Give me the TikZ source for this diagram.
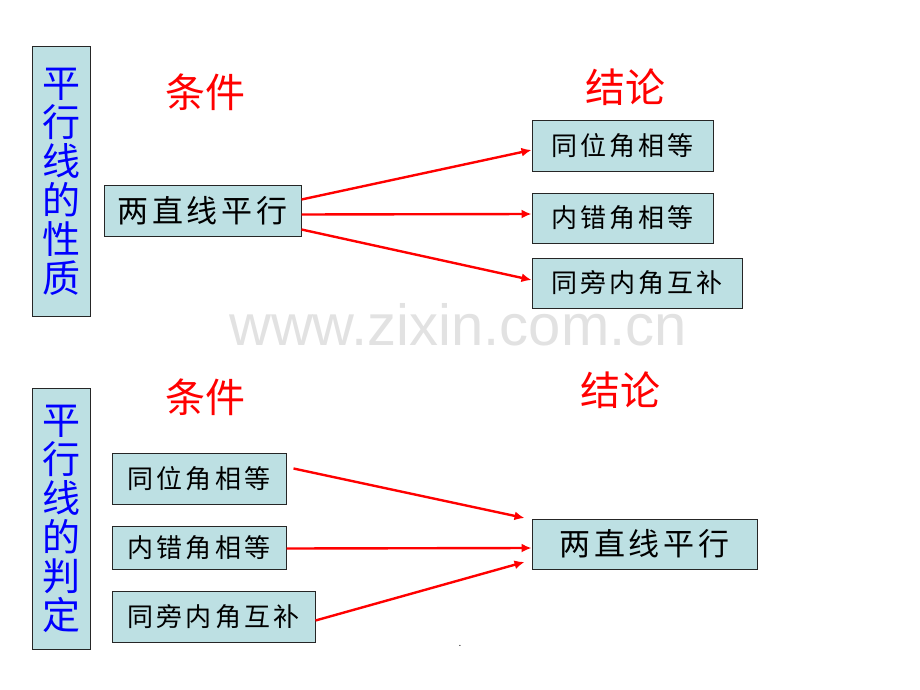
\documentclass[tikz,border=0pt]{standalone}
\usepackage{fontspec}
\setmainfont{Liberation Sans}
\newfontfamily\cjk{Noto Sans CJK SC}
\newfontfamily\cjkbox[LetterSpace=12]{Noto Sans CJK SC}
\usetikzlibrary{arrows.meta}
\definecolor{boxfill}{RGB}{189,224,227}
\definecolor{mark}{RGB}{226,226,226}
\begin{document}
\begin{tikzpicture}[x=1pt, y=-1pt,
	every node/.style = {inner sep=0pt},
	box/.style = {draw=black!85, line width=1pt, fill=boxfill, text=black},
	big/.style = {box, font=\cjkbox\fontsize{31}{31}\selectfont},
	small/.style = {box, font=\cjkbox\fontsize{26}{26}\selectfont},
	side/.style = {box, minimum width=58pt, text=blue, align=center,
		font=\cjk\fontsize{38}{39}\selectfont},
	head/.style = {text=red, font=\cjk\fontsize{40}{40}\selectfont},
	arr/.style = {red, line width=2.4pt, -{Latex[length=10pt,width=9pt]}}]
	
	\useasboundingbox (0,0) rectangle (920,690);
	
	% watermark
	\node[text=mark, font=\fontsize{58}{58}\selectfont, anchor=base] (wm) at (458,345) {www.zixin.com.cn};
	\node[font=\fontsize{10}{10}\selectfont] (dot) at (460,646) {.};
	
	% top: properties
	\node[side, minimum height=269pt] (s1) at (61,181.5) {平\\行\\线\\的\\性\\质};
	\node[head] (h1) at (205,92) {条件};
	\node[head] (h2) at (625,87) {结论};
	\node[big, minimum width=197pt, minimum height=51pt] (p) at (202.5,210.5) {两直线平行};
	\node[small, minimum width=181pt, minimum height=50pt] (q1) at (622.5,146) {同位角相等};
	\node[small, minimum width=181pt, minimum height=50pt] (q2) at (622.5,218) {内错角相等};
	\node[small, minimum width=210pt, minimum height=50pt] (q3) at (637,283) {同旁内角互补};
	
	\draw[arr] ([yshift=11pt]p.east) -- ([yshift=-4pt]q1.west);
	\draw[arr] ([yshift=-4pt]p.east) -- ([yshift=4pt]q2.west);
	\draw[arr] ([yshift=-19pt]p.east) -- ([yshift=3pt]q3.west);
	
	% bottom: tests
	\node[side, minimum height=261pt] (s2) at (61,518.5) {平\\行\\线\\的\\判\\定};
	\node[head] (h3) at (205,397) {条件};
	\node[head] (h4) at (620,390) {结论};
	\node[small, minimum width=174pt, minimum height=51pt] (c1) at (199,478.5) {同位角相等};
	\node[small, minimum width=174pt, minimum height=43pt] (c2) at (199,547.5) {内错角相等};
	\node[small, minimum width=203pt, minimum height=51pt] (c3) at (213.5,616.5) {同旁内角互补};
	\node[big, minimum width=225pt, minimum height=50pt] (d) at (644.5,544) {两直线平行};
	
	\draw[arr] ([xshift=7pt,yshift=10pt]c1.east) -- ([xshift=-7pt,yshift=26pt]d.west);
	\draw[arr] ([yshift=-1pt]c2.east) -- ([yshift=-4pt]d.west);
	\draw[arr] ([yshift=-4pt]c3.east) -- ([xshift=-7pt,yshift=-18pt]d.west);
\end{tikzpicture}
\end{document}
